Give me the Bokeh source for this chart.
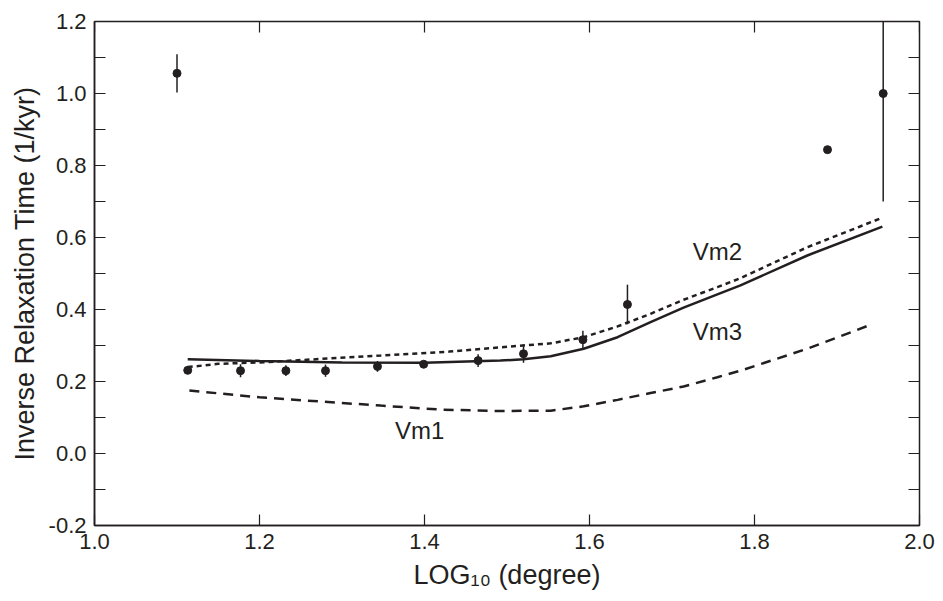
import math
from bokeh.plotting import figure
from bokeh.models import FixedTicker, Range1d, ColumnDataSource, PrintfTickFormatter
from bokeh.core.properties import value
from bokeh.embed import file_html
from bokeh.resources import INLINE

# ---- data ----
obs_x = [1.100, 1.113, 1.177, 1.232, 1.280, 1.343, 1.399, 1.465, 1.520, 1.592, 1.646, 1.8885, 1.956]
obs_y = [1.056, 0.231, 0.230, 0.230, 0.230, 0.242, 0.248, 0.258, 0.277, 0.316, 0.414, 0.844, 1.000]
obs_err = [0.053, 0.010, 0.018, 0.015, 0.017, 0.015, 0.008, 0.018, 0.025, 0.025, 0.055, 0.0, 0.300]

vm1_x = [1.115, 1.20, 1.347, 1.42, 1.492, 1.553, 1.593, 1.634, 1.674, 1.714, 1.755, 1.783, 1.864, 1.94]
vm1_y = [0.175, 0.156, 0.133, 0.122, 0.118, 0.119, 0.131, 0.149, 0.168, 0.186, 0.212, 0.230, 0.291, 0.357]

vm2_x = [1.113, 1.15, 1.20, 1.347, 1.43, 1.492, 1.553, 1.593, 1.634, 1.674, 1.714, 1.755, 1.783, 1.864, 1.955]
vm2_y = [0.240, 0.249, 0.253, 0.272, 0.283, 0.295, 0.306, 0.323, 0.353, 0.388, 0.427, 0.462, 0.487, 0.573, 0.655]

vm3_x = [1.113, 1.20, 1.30, 1.40, 1.492, 1.52, 1.553, 1.593, 1.634, 1.674, 1.714, 1.755, 1.783, 1.864, 1.955]
vm3_y = [0.262, 0.257, 0.253, 0.252, 0.258, 0.262, 0.270, 0.291, 0.323, 0.365, 0.405, 0.442, 0.467, 0.550, 0.630]

curve_labels = ["Vm1", "Vm2", "Vm3"]
label_x = [1.394, 1.755, 1.755]
label_y = [0.064, 0.560, 0.339]

x_ticks = [1.0, 1.2, 1.4, 1.6, 1.8, 2.0]
y_ticks = [-0.2, 0.0, 0.2, 0.4, 0.6, 0.8, 1.0, 1.2]
y_minor = [-0.1, 0.1, 0.3, 0.5, 0.7, 0.9, 1.1]

INK = "#231f20"
FONT = "Liberation Sans"

p = figure(width=943, height=601, output_backend="svg", toolbar_location=None,
           x_range=Range1d(x_ticks[0], x_ticks[-1]), y_range=Range1d(y_ticks[0], y_ticks[-1]),
           min_border_left=94, min_border_right=24, min_border_top=21, min_border_bottom=76,
           background_fill_color="white", border_fill_color="white")
p.xgrid.visible = False
p.ygrid.visible = False
p.outline_line_color = INK
p.outline_line_width = 1.5
p.outline_line_alpha = 1.0

def style_axis(ax, ticks, minor):
    ax.ticker = FixedTicker(ticks=ticks, minor_ticks=minor)
    ax.formatter = PrintfTickFormatter(format="%.1f")
    ax.major_tick_in = 11
    ax.major_tick_out = 0
    ax.minor_tick_in = 11 if minor else 0
    ax.minor_tick_out = 0
    ax.major_tick_line_color = INK
    ax.minor_tick_line_color = INK
    ax.major_tick_line_width = 1.2
    ax.minor_tick_line_width = 1.2
    ax.axis_line_color = INK
    ax.axis_line_width = 1.5
    ax.major_label_text_font = FONT
    ax.major_label_text_font_size = "22px"
    ax.major_label_text_color = INK
    ax.major_label_standoff = 8
    ax.axis_label_text_font = FONT
    ax.axis_label_text_font_size = "27px"
    ax.axis_label_text_font_style = "normal"
    ax.axis_label_text_color = INK

xa = p.xaxis[0]
ya = p.yaxis[0]
style_axis(xa, x_ticks, [])
style_axis(ya, y_ticks, y_minor)
xa.axis_label = "LOG\u2081\u2080 (degree)"
ya.axis_label = "Inverse Relaxation Time (1/kyr)"
xa.axis_label_standoff = 8
ya.axis_label_standoff = 6

# inward ticks on the top and right edges of the frame
p.ray(x=x_ticks, y=[y_ticks[-1]] * len(x_ticks), length=11, length_units="screen",
      angle=-math.pi / 2, line_color=INK, line_width=1.2)
right_ticks = y_ticks + y_minor
p.ray(x=[x_ticks[-1]] * len(right_ticks), y=right_ticks, length=11, length_units="screen",
      angle=math.pi, line_color=INK, line_width=1.2)

# curves
p.line(vm1_x, vm1_y, line_color=INK, line_width=2.5, line_dash="10 7")
p.line(vm2_x, vm2_y, line_color=INK, line_width=2.5, line_dash="5 4")
p.line(vm3_x, vm3_y, line_color=INK, line_width=2.5)

# error bars and points
src = ColumnDataSource(dict(
    x=obs_x, y=obs_y,
    lo=[y - e for y, e in zip(obs_y, obs_err)],
    hi=[y + e for y, e in zip(obs_y, obs_err)],
))
p.segment(x0="x", y0="lo", x1="x", y1="hi", source=src, line_color=INK, line_width=1.5)
p.scatter(x="x", y="y", source=src, size=8, fill_color=INK, line_color=INK)

p.text(x=label_x, y=label_y, text=curve_labels, text_font=value(FONT),
       text_font_size="24px", text_color=INK, text_align="center", text_baseline="middle")

open("out.html", "w").write(file_html(p, INLINE))
